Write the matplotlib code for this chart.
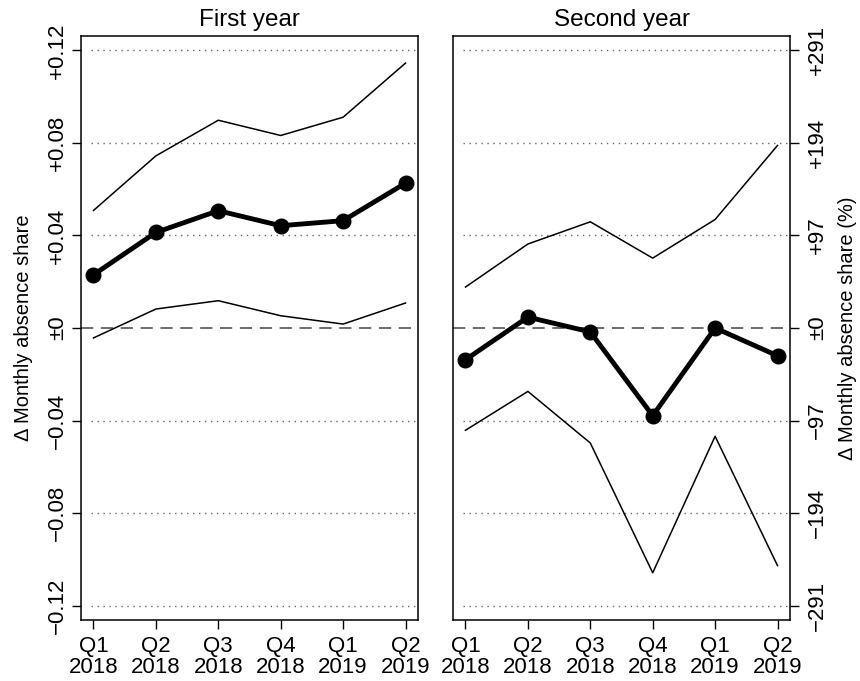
import matplotlib
matplotlib.use("Agg")
import matplotlib.pyplot as plt

plt.rcParams['font.family'] = ['Liberation Sans', 'DejaVu Sans']

# quarters on the x axis
quarters = ["Q1\n2018", "Q2\n2018", "Q3\n2018", "Q4\n2018", "Q1\n2019", "Q2\n2019"]
xpos = [1, 2, 3, 4, 5, 6]

# first year: estimate and confidence band
first_est = [0.0230, 0.0413, 0.0507, 0.0442, 0.0464, 0.0626]
first_hi = [0.0508, 0.0744, 0.0898, 0.0832, 0.0911, 0.1145]
first_lo = [-0.0043, 0.0082, 0.0118, 0.0053, 0.0017, 0.0108]

# second year
second_est = [-0.0137, 0.0047, -0.0017, -0.0379, 0.0000, -0.0120]
second_hi = [0.0177, 0.0363, 0.0459, 0.0302, 0.0469, 0.0789]
second_lo = [-0.0442, -0.0274, -0.0497, -0.1058, -0.0468, -0.1027]

# y ticks, left in shares, right in percent
yticks = [-0.12, -0.08, -0.04, 0.0, 0.04, 0.08, 0.12]
share_labels = ["\u22120.12", "\u22120.08", "\u22120.04", "\u00b10", "+0.04", "+0.08", "+0.12"]
pct_labels = ["\u2212291", "\u2212194", "\u221297", "\u00b10", "+97", "+194", "+291"]

fig = plt.figure(figsize=(8.6, 6.81), dpi=100)
ax1 = fig.add_axes([81/860, 1-620/681, 337/860, 584/681])
ax2 = fig.add_axes([453/860, 1-620/681, 337/860, 584/681])


def draw_panel(ax, est, hi, lo, title):
    for yv in yticks:
        if yv != 0:
            ax.axhline(yv, xmin=0.03, xmax=0.99, color='#666666', lw=1.0,
                       linestyle=(0, (1, 3.3)), zorder=1)
    ax.axhline(0, color='#444444', lw=1.1, dashes=(8, 5), zorder=1)
    ax.plot(xpos, hi, color='black', lw=1.1, zorder=2)
    ax.plot(xpos, lo, color='black', lw=1.1, zorder=2)
    ax.plot(xpos, est, color='black', lw=3.5, marker='o', ms=10.5, zorder=3)
    ax.set_xlim(0.8, 6.2)
    ax.set_ylim(-0.1262, 0.1262)
    ax.set_xticks(xpos)
    ax.set_xticklabels(quarters, fontsize=16, linespacing=1.0)
    ax.set_yticks(yticks)
    ax.set_title(title, fontsize=17.5, pad=7)
    for s in ax.spines.values():
        s.set_linewidth(1.1)
    ax.tick_params(axis='x', length=6.5, width=1.0, pad=5)
    ax.tick_params(axis='y', length=6.5, width=1.0, labelsize=16, labelrotation=90)


draw_panel(ax1, first_est, first_hi, first_lo, "First year")
ax1.set_yticklabels(share_labels)
ax1.tick_params(axis='y', pad=3)
for lab in ax1.get_yticklabels():
    lab.set_va('center')
ax1.set_ylabel("\u0394 Monthly absence share", fontsize=14.5)
ax1.yaxis.set_label_coords(-0.142, 0.5)

draw_panel(ax2, second_est, second_hi, second_lo, "Second year")
ax2.yaxis.tick_right()
ax2.set_yticklabels(pct_labels)
ax2.tick_params(axis='y', pad=6)
for lab in ax2.get_yticklabels():
    lab.set_va('center')
ax2.yaxis.set_label_position('right')
ax2.set_ylabel("\u0394 Monthly absence share (%)", fontsize=14.5, rotation=90)
ax2.yaxis.set_label_coords(1.142, 0.5)

fig.savefig("out.png", dpi=100)
